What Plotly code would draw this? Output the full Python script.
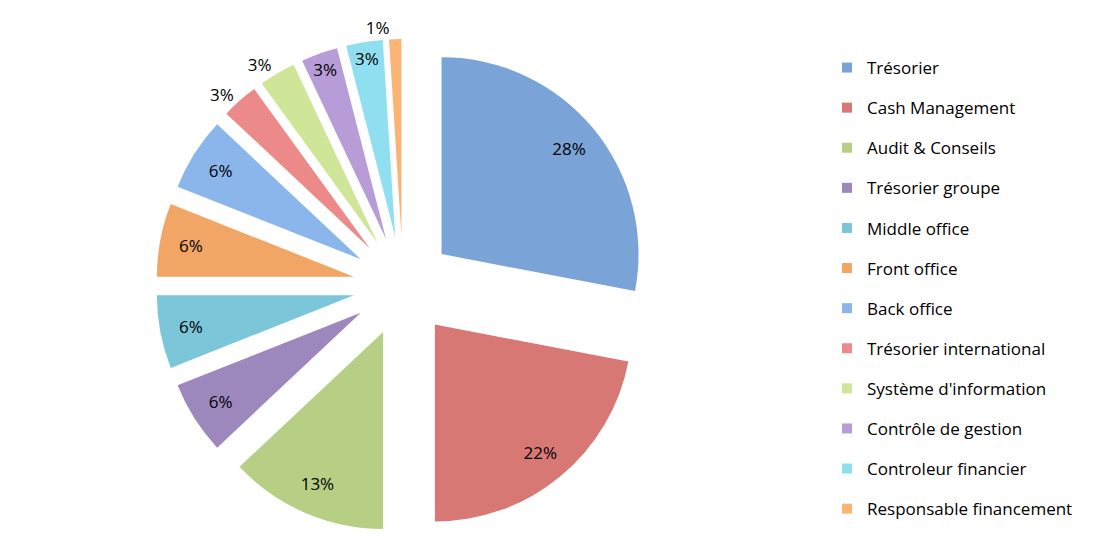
import plotly.graph_objects as go

categories = ["Trésorier", "Cash Management", "Audit & Conseils", "Trésorier groupe",
              "Middle office", "Front office", "Back office", "Trésorier international",
              "Système d'information", "Contrôle de gestion", "Controleur financier",
              "Responsable financement"]
values = [28, 22, 13, 6, 6, 6, 6, 3, 3, 3, 3, 1]
label_texts = ["28%", "22%", "13%", "6%", "6%", "6%", "6%", "3%", "3%", "3%", "3%", "1%"]
colors = ["#7aa3d8", "#d77875", "#b6cf85", "#9d88bd", "#7cc6d9", "#f2a665",
          "#8ab6ec", "#ec8a8a", "#cfe597", "#b79cd8", "#8fdff0", "#fbb474"]
text_positions = ["inside", "inside", "inside", "inside", "inside", "inside",
                  "inside", "outside", "outside", "inside", "inside", "outside"]

W, H = 1096, 556
# page has an 8px body margin; coordinates below are in canvas pixels
cx, cy, half = 395, 278, 247
pull = 0.254
domain = dict(x=[(cx - half) / W, (cx + half) / W],
              y=[(H - cy - half) / H, (H - cy + half) / H])
font = dict(family="Open Sans", size=17, color="black")

fig = go.Figure()
# coloured slices
fig.add_trace(go.Pie(
    labels=categories, values=values,
    textinfo="none",
    sort=False, direction="clockwise", rotation=0,
    pull=[pull] * len(values),
    marker=dict(colors=colors, line=dict(width=0)),
    domain=domain, showlegend=False, hoverinfo="label+percent",
))
# transparent ring carrying the percentage labels near the outer edge
fig.add_trace(go.Pie(
    labels=categories, values=values, text=label_texts,
    textinfo="text", textposition=text_positions,
    insidetextorientation="horizontal",
    sort=False, direction="clockwise", rotation=0, hole=0.68,
    pull=[pull] * len(values),
    marker=dict(colors=["rgba(0,0,0,0)"] * len(values), line=dict(width=0)),
    textfont=font, domain=domain, showlegend=False, hoverinfo="skip",
))

for name, col in zip(categories, colors):
    fig.add_trace(go.Scatter(
        x=[None], y=[None], mode="markers", name=name, legendgroup=name,
        marker=dict(symbol="square", size=10, color=col),
        showlegend=True,
    ))

fig.update_layout(
    width=W, height=H,
    margin=dict(l=0, r=0, t=0, b=0, autoexpand=False),
    paper_bgcolor="white", plot_bgcolor="white",
    xaxis=dict(visible=False), yaxis=dict(visible=False),
    showlegend=True,
    legend=dict(x=819 / W, xanchor="left", y=1 - 42 / H, yanchor="top",
                font=font, tracegroupgap=15, bgcolor="rgba(0,0,0,0)"),
)

fig.write_html("out.html")
